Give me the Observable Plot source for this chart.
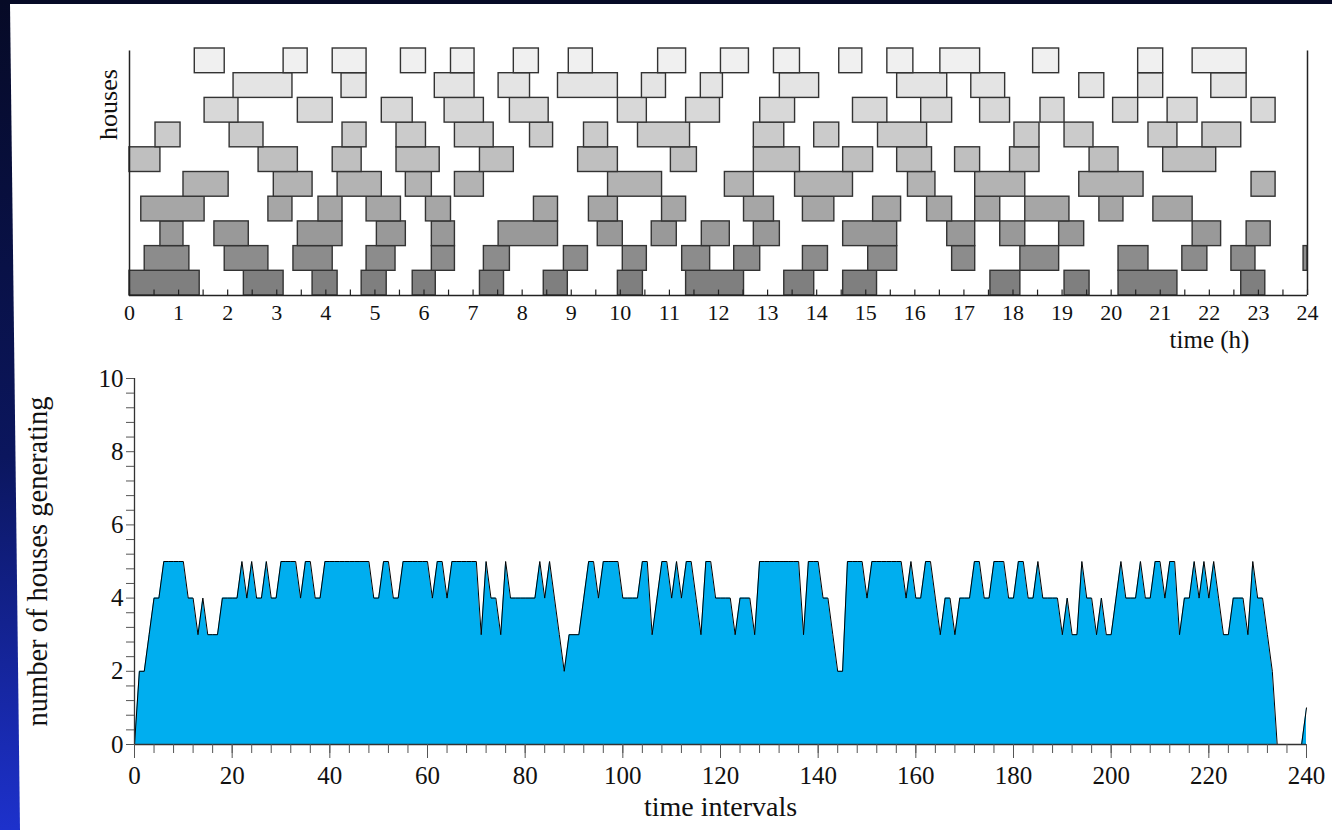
<!DOCTYPE html>
<html>
<head>
<meta charset="utf-8">
<script src="https://cdn.jsdelivr.net/npm/d3@7"></script>
<script src="https://cdn.jsdelivr.net/npm/@observablehq/plot@0.6"></script>
<style>
  html, body { margin: 0; padding: 0; }
  body {
    width: 1332px; height: 830px; position: relative; overflow: hidden;
    background: linear-gradient(180deg, #060a26 0%, #0b165e 55%, #1d31cc 100%);
    font-family: "Liberation Serif", "Times New Roman", serif;
  }
  #panel {
    position: absolute; left: 0; top: 0; width: 1332px; height: 830px; background: #ffffff;
    clip-path: polygon(10px 4px, 1332px 4px, 1332px 830px, 20px 830px);
  }
  .chart { position: absolute; left: 0; top: 0; }
</style>
</head>
<body>
<div id="panel"></div>
<div id="top" class="chart"></div>
<div id="bottom" class="chart"></div>
<script>
// ---------- Top panel: generation periods of each house (hours) ----------
const house1  = [[0,1.43],[2.33,3.14],[3.73,4.24],[4.73,5.24],[5.77,6.24],[7.14,7.63],[8.44,8.93],[9.95,10.46],[11.34,12.52],[13.34,13.95],[14.54,15.23],[17.54,18.15],[19.05,19.56],[20.15,21.35],[22.65,23.14]];
const house2  = [[0.31,1.22],[1.94,2.83],[3.34,4.14],[4.83,5.42],[6.16,6.63],[7.22,7.75],[8.85,9.34],[10.05,10.54],[11.26,11.83],[12.32,12.85],[13.72,14.23],[15.05,15.64],[16.76,17.23],[18.15,18.94],[20.15,20.76],[21.45,21.96],[22.45,22.94],[23.92,24]];
const house3  = [[0.63,1.10],[1.73,2.43],[3.43,4.34],[5.04,5.63],[6.16,6.63],[7.52,8.73],[9.54,10.05],[10.64,11.15],[11.66,12.23],[12.72,13.25],[14.54,15.64],[16.66,17.23],[17.74,18.25],[18.94,19.45],[21.66,22.24],[22.76,23.25]];
const house4  = [[0.24,1.53],[2.83,3.32],[3.85,4.34],[4.83,5.53],[6.04,6.55],[8.24,8.73],[9.36,9.95],[10.85,11.34],[12.52,13.13],[13.72,14.36],[15.15,15.72],[16.25,16.76],[17.23,17.74],[18.25,19.15],[19.76,20.25],[20.86,21.66]];
const house5  = [[1.10,2.02],[2.94,3.73],[4.24,5.14],[5.63,6.16],[6.63,7.22],[9.75,10.85],[12.13,12.72],[13.56,14.74],[15.86,16.42],[17.23,18.25],[19.35,20.66],[22.86,23.35]];
const house6  = [[0,0.63],[2.63,3.43],[4.14,4.73],[5.44,6.32],[7.14,7.83],[9.14,9.95],[11.03,11.56],[12.72,13.66],[14.54,15.15],[15.64,16.35],[16.82,17.33],[17.94,18.54],[19.56,20.15],[21.06,22.14]];
const house7  = [[0.53,1.04],[2.04,2.73],[4.34,4.83],[5.44,6.04],[6.63,7.42],[8.16,8.63],[9.26,9.75],[10.36,11.42],[12.72,13.34],[13.95,14.46],[15.25,16.25],[18.03,18.54],[19.05,19.64],[20.76,21.35],[21.86,22.65]];
const house8  = [[1.53,2.22],[3.43,4.14],[5.14,5.77],[6.42,7.22],[7.75,8.54],[9.95,10.54],[11.34,12.03],[12.85,13.56],[14.74,15.44],[16.13,16.76],[17.33,17.94],[18.56,19.05],[20.04,20.55],[21.15,21.76],[22.86,23.35]];
const house9  = [[2.12,3.32],[4.32,4.83],[6.22,7.03],[7.52,8.16],[8.73,9.95],[10.44,10.93],[11.64,12.09],[13.25,14.05],[15.64,16.66],[17.15,17.84],[19.35,19.86],[20.55,21.06],[22.04,22.76]];
const house10 = [[1.33,1.94],[3.14,3.63],[4.14,4.83],[5.53,6.04],[6.55,7.03],[7.83,8.34],[8.95,9.44],[10.77,11.34],[12.05,12.62],[13.13,13.66],[14.46,14.93],[15.44,15.97],[16.52,17.33],[18.41,18.94],[20.55,21.06],[21.66,22.76]];
const houseShades = ["#7f7f7f","#8c8c8c","#999999","#a6a6a6","#b3b3b3","#bfbfbf","#cbcbcb","#d8d8d8","#e4e4e4","#f0f0f0"];
const hourTicks = [0,1,2,3,4,5,6,7,8,9,10,11,12,13,14,15,16,17,18,19,20,21,22,23,24];

// ---------- Bottom panel: number of houses generating per 6-minute interval ----------
const generating = [
  0,2,2,3,4,4,5,5,5,5,  5,4,4,3,4,3,3,3,4,4,  4,4,5,4,5,4,4,5,4,4,  5,5,5,5,4,5,5,4,4,5,
  5,5,5,5,5,5,5,5,5,4,  4,5,5,4,4,5,5,5,5,5,  5,4,5,5,4,5,5,5,5,5,  5,3,5,4,4,3,5,4,4,4,
  4,4,4,5,4,5,4,3,2,3,  3,3,4,5,5,4,5,5,5,5,  4,4,4,4,5,5,3,4,5,5,  4,5,4,5,5,4,3,5,5,4,
  4,4,4,3,4,4,4,3,5,5,  5,5,5,5,5,5,5,3,5,5,  5,4,4,3,2,2,5,5,5,5,  4,5,5,5,5,5,5,5,4,5,
  4,4,5,5,4,3,4,4,3,4,  4,4,5,5,4,4,5,5,5,4,  4,5,5,4,4,5,4,4,4,4,  3,4,3,3,5,4,4,3,4,3,
  3,4,5,4,4,4,5,4,4,5,  5,4,5,5,3,4,4,5,4,5,  4,5,4,3,3,4,4,4,3,5,  4,4,3,2,0,0,0,0,0,0,
  1
];
const intervalTicks = [0,20,40,60,80,100,120,140,160,180,200,220,240];
const countTicks = [0,2,4,6,8,10];

const serif = '"Liberation Serif", "Times New Roman", serif';

// ---------- Build tables ----------
const houses = [house1,house2,house3,house4,house5,house6,house7,house8,house9,house10];
const houseBars = houses.flatMap((bars, k) => bars.map(([s, e]) => ({house: k + 1, start: s, end: e, shade: houseShades[k]})));
const halfHourTicks = d3.range(0, 48.5).map(i => i / 2);
const genData = generating.map((v, i) => ({i, v}));
const minorX = d3.range(0, 61).map(i => i * 4);
const minorY = d3.range(0, 26).map(i => +(i * 0.4).toFixed(1));

const topChart = Plot.plot({
  width: 1332, height: 830,
  marginLeft: 129, marginRight: 25, marginTop: 48, marginBottom: 535,
  style: {background: "transparent", fontFamily: serif, color: "#111", overflow: "visible"},
  x: {domain: [0, 24], label: null},
  y: {domain: [0, 10], axis: null, label: null},
  color: {type: "identity"},
  marks: [
    Plot.rect(houseBars, {x1: "start", x2: "end", y1: d => d.house - 1, y2: "house", fill: "shade", stroke: "#333", strokeWidth: 1.4}),
    Plot.ruleX(halfHourTicks, {x: d => d, y1: 0, y2: 0.22, stroke: "#222", strokeWidth: 1.2}),
    Plot.ruleX([0, 24], {y1: 0, y2: 9.9, stroke: "#222", strokeWidth: 1.5}),
    Plot.ruleY([0], {x1: 0, x2: 24, stroke: "#222", strokeWidth: 1.5}),
    Plot.axisX(hourTicks, {tickSize: 0, tickPadding: 9, fontSize: 22, label: null}),
    Plot.text(["time (h)"], {frameAnchor: "bottom-right", textAnchor: "middle", lineAnchor: "middle", dx: -98, dy: 44, fontSize: 25}),
    Plot.text(["houses"], {frameAnchor: "top-left", textAnchor: "middle", lineAnchor: "middle", rotate: -90, dx: -21, dy: 56, fontSize: 26})
  ]
});
document.getElementById("top").append(topChart);

const bottomChart = Plot.plot({
  width: 1332, height: 830,
  marginLeft: 134, marginRight: 26, marginTop: 378, marginBottom: 86,
  style: {background: "transparent", fontFamily: serif, color: "#111", overflow: "visible"},
  x: {domain: [0, 240], label: null},
  y: {domain: [0, 10], label: null},
  marks: [
    Plot.areaY(genData, {x: "i", y: "v", fill: "#00aeef"}),
    Plot.lineY(genData, {x: "i", y: "v", stroke: "#000", strokeWidth: 1}),
    Plot.ruleX([0], {y1: 0, y2: 10, stroke: "#333", strokeWidth: 1.3}),
    Plot.ruleY([0], {x1: 0, x2: 240, stroke: "#333", strokeWidth: 1.3}),
    Plot.axisX(minorX, {tickSize: 9, tickFormat: () => "", stroke: "#555", label: null}),
    Plot.axisX(intervalTicks, {tickSize: 14, tickFormat: () => "", stroke: "#555", label: null}),
    Plot.axisX(intervalTicks, {tickSize: 0, tickPadding: 22, fontSize: 25, label: null}),
    Plot.axisY(minorY, {tickSize: 8, tickFormat: () => "", stroke: "#555", label: null}),
    Plot.axisY(countTicks, {tickSize: 0, tickPadding: 11, fontSize: 25, label: null}),
    Plot.text(["time intervals"], {frameAnchor: "bottom", textAnchor: "middle", lineAnchor: "middle", dy: 63, fontSize: 28}),
    Plot.text(["number of houses generating"], {frameAnchor: "left", textAnchor: "middle", lineAnchor: "middle", rotate: -90, dx: -97, fontSize: 28.5})
  ]
});
document.getElementById("bottom").append(bottomChart);
</script>
</body>
</html>
